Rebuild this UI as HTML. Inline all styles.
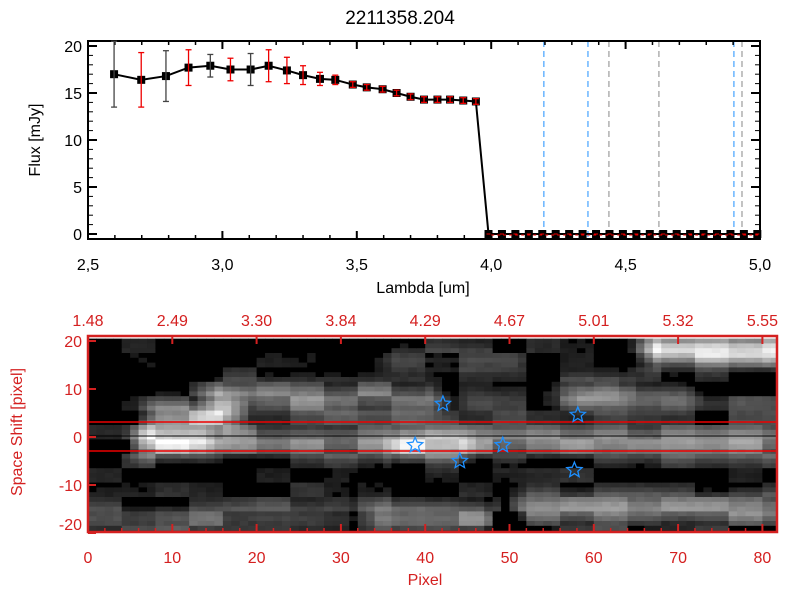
<!DOCTYPE html>
<html><head><meta charset="utf-8"><style>
body{margin:0;background:#fff;}
svg{display:block;font-family:"Liberation Sans",sans-serif;}
</style></head><body>
<svg id="c" width="800" height="600"></svg>
<script>
const lambdas=[2.597,2.698,2.79,2.874,2.955,3.03,3.105,3.172,3.24,3.30,3.363,3.42,3.485,3.537,3.596,3.648,3.70,3.75,3.80,3.847,3.896,3.943];
const fluxes=[17.0,16.4,16.8,17.7,17.9,17.5,17.5,17.9,17.4,16.9,16.5,16.4,15.9,15.6,15.4,15.0,14.6,14.3,14.3,14.3,14.2,14.1];
const errors=[3.5,2.9,2.7,1.9,1.2,1.2,1.7,1.7,1.4,1.0,0.7,0.5,0.3,0.3,0.3,0.3,0.3,0.3,0.3,0.3,0.3,0.3];
const zeroLambdas=[3.99,4.04,4.09,4.14,4.19,4.24,4.29,4.34,4.39,4.44,4.49,4.54,4.59,4.64,4.69,4.74,4.79,4.84,4.89,4.94,4.99];
const blueLines=[4.196,4.36,4.903];
const grayLines=[4.438,4.624,4.933];
const xTicksTop=[2.5,3.0,3.5,4.0,4.5,5.0];
const yTicksTop=[0,5,10,15,20];
const pixTicks=[0,10,20,30,40,50,60,70,80];
const lamTopLabels=["1.48","2.49","3.30","3.84","4.29","4.67","5.01","5.32","5.55"];
const shiftTicks=[-20,-10,0,10,20];
const starX=[42.1,58.1,38.8,49.2,44.1,57.7];
const starY=[6.9,4.6,-1.7,-1.7,-5.0,-6.9];
const blobX0=[6,7,37,15,8,67,52,0,34,36,58,56,20,45];
const blobX1=[81,13,43,40,16,82,81,30,46,50,70,62,30,81];
const blobYc=[-1,-0.5,-2,8,5,18,-15,-17,-17,16,8,10,-10,7];
const blobYs=[2.6,2.4,2.4,2.6,2.4,2.2,2.6,2.5,2.5,1.8,2,2,2,2];
const blobI=[0.5,0.4,0.35,0.45,0.55,0.85,0.5,0.3,0.5,0.25,0.25,0.3,0.1,0.2];

const S=document.getElementById('c');const NS='http://www.w3.org/2000/svg';
function el(t,a,p){const e=document.createElementNS(NS,t);for(const k in a)e.setAttribute(k,a[k]);(p||S).appendChild(e);return e;}
function tx(x,y,s,a,p){const e=el('text',a,p);e.setAttribute('x',x);e.setAttribute('y',y);e.textContent=s;return e;}
const X=l=>88+(l-2.5)*268.8, Y=v=>234-v*9.4;
const t=tx(400,24,"2211358.204",{'font-size':19,'text-anchor':'middle'});

const gT=el('g',{});
blueLines.forEach(l=>{const e=el('line',{x1:X(l),x2:X(l),y1:41,y2:239,stroke:'#1e90ff','stroke-dasharray':'6,4'},gT);});
grayLines.forEach(l=>{const e=el('line',{x1:X(l),x2:X(l),y1:41,y2:239,stroke:'#888','stroke-dasharray':'6,4'},gT);});
el('rect',{x:88,y:41,width:672,height:198,fill:'none',stroke:'#000','stroke-width':2},gT);
xTicksTop.forEach(v=>{el('line',{x1:X(v),x2:X(v),y1:239,y2:231,stroke:'#000','stroke-width':2},gT);el('line',{x1:X(v),x2:X(v),y1:41,y2:49,stroke:'#000','stroke-width':2},gT);
 const e=tx(X(v),270,v.toFixed(1).replace('.',','),{'font-size':16,'text-anchor':'middle'},gT);});
for(let v=2.5;v<5.0;v+=0.1){el('line',{x1:X(v),x2:X(v),y1:239,y2:235,stroke:'#000','stroke-width':1.5},gT);el('line',{x1:X(v),x2:X(v),y1:41,y2:45,stroke:'#000','stroke-width':1.5},gT);}
yTicksTop.forEach(v=>{el('line',{x1:88,x2:97,y1:Y(v),y2:Y(v),stroke:'#000','stroke-width':2},gT);el('line',{x1:760,x2:751,y1:Y(v),y2:Y(v),stroke:'#000','stroke-width':2},gT);
 const e=tx(82,Y(v)+6,String(v),{'font-size':16,'text-anchor':'end'},gT);});
for(let v=0;v<=20;v+=1){el('line',{x1:88,x2:93,y1:Y(v),y2:Y(v),stroke:'#000'},gT);el('line',{x1:760,x2:755,y1:Y(v),y2:Y(v),stroke:'#000'},gT);}
let e=tx(423,293,"Lambda [um]",{'font-size':16,'text-anchor':'middle'},gT);
e=tx(0,0,"Flux [mJy]",{'font-size':16,'text-anchor':'middle',transform:'translate(40,140) rotate(-90)'},gT);
const allL=lambdas.concat(zeroLambdas), allF=fluxes.concat(zeroLambdas.map(()=>0));
el('polyline',{points:allL.map((l,i)=>X(l)+','+Y(allF[i])).join(' '),fill:'none',stroke:'#000','stroke-width':2},gT);
allL.forEach((l,i)=>{const m=el('rect',{x:X(l)-4,y:Y(allF[i])-4,width:8,height:8,fill:'#000'},gT);});
lambdas.forEach((l,i)=>{const c=(i%2==0&&i<8)?'#444':'#e00';const lo=Y(fluxes[i]-errors[i]);const hy=Math.max(Y(fluxes[i]+errors[i]),41);
 const g=el('g',{stroke:c,'stroke-width':1.3},gT);
 el('line',{x1:X(l),x2:X(l),y1:hy,y2:lo},g);el('line',{x1:X(l)-3,x2:X(l)+3,y1:hy,y2:hy},g);el('line',{x1:X(l)-3,x2:X(l)+3,y1:lo,y2:lo},g);});
zeroLambdas.forEach(l=>el('line',{x1:X(l)-2,x2:X(l)+2,y1:Y(0),y2:Y(0),stroke:'#e00'},gT));
el('line',{x1:X(4.0),x2:760,y1:Y(0)+1,y2:Y(0)+1,stroke:'#e00','stroke-dasharray':'3,3'},gT);
const PX=p=>88+p*8.43, SY=s=>437-s*4.8;
const gB=el('g',{});
function h(a,b){let n=Math.sin(a*12.9898+b*78.233)*43758.5453;return n-Math.floor(n);}
const cw=8.43, rows=41;
for(let c=0;c<82;c++){for(let r=0;r<rows;r++){const s=20-r;
 let v=0.28*h(Math.floor(c/4),Math.floor(r/3))+0.04*h(c,r)-0.14;
 for(let k=0;k<blobI.length;k++){if(c>=blobX0[k]-3&&c<=blobX1[k]+3){const fx=c<blobX0[k]?(1-(blobX0[k]-c)/3):(c>blobX1[k]?(1-(c-blobX1[k])/3):1);v+=blobI[k]*fx*Math.exp(-Math.pow((s-blobYc[k])/blobYs[k],2)/2);}}
 v=Math.max(0,Math.min(1,v));if(v<0.1)v=0;const g=Math.round(v*255);
 const y0=SY(s+0.5),y1=SY(s-0.5);const x0=PX(c);if(x0>776)continue;
 el('rect',{x:x0,y:Math.max(y0,337),width:Math.min(cw+0.5,777-x0),height:Math.min(y1,531)-Math.max(y0,337)+0.5,fill:`rgb(${g},${g},${g})`},gB);}}
el('line',{x1:88,x2:777,y1:422,y2:422,stroke:'#e00','stroke-width':1.5},gB);
el('line',{x1:88,x2:777,y1:451,y2:451,stroke:'#e00','stroke-width':1.5},gB);
el('line',{x1:88,x2:777,y1:436,y2:436,stroke:'#000','stroke-width':1},gB);
function star(cx,cy,r){const p=[];for(let i=0;i<10;i++){const a=-Math.PI/2+i*Math.PI/5,rr=i%2?r*0.45:r;p.push((cx+rr*Math.cos(a)).toFixed(1)+','+(cy+rr*Math.sin(a)).toFixed(1));}return p.join(' ');}
starX.forEach((sx,i)=>{const m=el('polygon',{points:star(PX(sx),SY(starY[i]),8),fill:'none',stroke:'#1e90ff','stroke-width':1.3},gB);});
el('rect',{x:88,y:336,width:689,height:196,fill:'none',stroke:'#d42020','stroke-width':2.5},gB);
pixTicks.forEach((p,i)=>{el('line',{x1:PX(p),x2:PX(p),y1:532,y2:524,stroke:'#d42020','stroke-width':2},gB);el('line',{x1:PX(p),x2:PX(p),y1:336,y2:344,stroke:'#d42020','stroke-width':2},gB);
 let e=tx(PX(p),563,String(p),{'font-size':16,'text-anchor':'middle',fill:'#d42020'},gB);
 e=tx(PX(p),326,lamTopLabels[i],{'font-size':16,'text-anchor':'middle',fill:'#d42020'},gB);});
for(let p=0;p<=81;p+=2){el('line',{x1:PX(p),x2:PX(p),y1:532,y2:528,stroke:'#d42020','stroke-width':1.5},gB);}
shiftTicks.forEach(s=>{el('line',{x1:88,x2:96,y1:SY(s),y2:SY(s),stroke:'#d42020','stroke-width':2},gB);
 const e=tx(82,Math.min(Math.max(SY(s)+6,347),530),String(s),{'font-size':16,'text-anchor':'end',fill:'#d42020'},gB);});
e=tx(425,585,"Pixel",{'font-size':16,'text-anchor':'middle',fill:'#d42020'},gB);
e=tx(0,0,"Space Shift [pixel]",{'font-size':16,'text-anchor':'middle',fill:'#d42020',transform:'translate(22,432) rotate(-90)'},gB);
</script>
</body></html>
